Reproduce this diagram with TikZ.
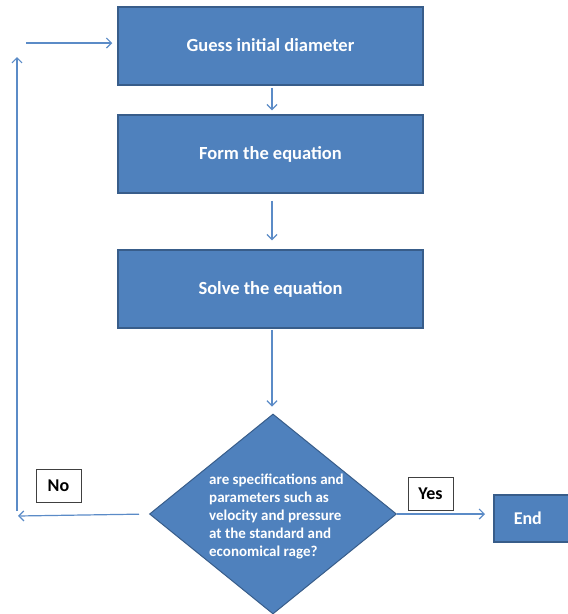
\documentclass[tikz,border=0pt]{standalone}
\usepackage{fontspec}
\setmainfont{Carlito}
\usetikzlibrary{shapes.geometric,arrows.meta}
\definecolor{boxfill}{HTML}{4F81BD}
\definecolor{boxline}{HTML}{385D8A}
\definecolor{arrcol}{HTML}{5B8BC7}
\tikzset{
  stepbox/.style={draw=boxline, line width=1.5pt, fill=boxfill, minimum width=305pt, minimum height=78pt, font=\bfseries\fontsize{18.5}{22}\selectfont, text=white},
  decbox/.style={diamond, draw=boxline, line width=1pt, fill=boxfill, minimum width=247pt, minimum height=200pt, inner sep=0pt},
  lblbox/.style={draw=black!75, line width=1pt, fill=white, font=\bfseries\fontsize{18}{21}\selectfont, minimum width=45pt, minimum height=33pt, inner sep=0pt},
  arr/.style={draw=arrcol, line width=1.2pt, -{Straight Barb[length=5pt,width=10pt]}}
}
\begin{document}
\begin{tikzpicture}[x=1pt,y=-1pt]
\useasboundingbox (0,0) rectangle (568,614);
\node[stepbox] (b1) at (270.5,46) {\raisebox{3pt}{Guess initial diameter}};
\node[stepbox] (b2) at (270.5,154) {Form the equation};
\node[stepbox] (b3) at (270.5,289) {Solve the equation};
\node[decbox] (d) at (273,514) {};
\node[text=white, font=\bfseries\fontsize{15}{18}\selectfont, align=left, anchor=north west, inner sep=0pt] (dt) at (209,474) {are specifications and\\parameters such as\\velocity and pressure\\at the standard and\\economical rage?};
\node[stepbox, minimum width=0pt, minimum height=47pt, anchor=west, text width=60pt, align=left, inner xsep=20pt, font=\bfseries\fontsize{18}{21}\selectfont] (e) at (493,518.5) {End};
\node[lblbox] (no) at (58.5,486) {No};
\node[lblbox] (yes) at (430.5,494) {Yes};
\coordinate (nl) at (18,516);
\coordinate (vb) at (17,511);
\coordinate (vt) at (17,57);
\coordinate (ts) at (26,43);
\draw[arr, shorten <=2pt, shorten >=4pt] (b1.south -| 272,0) -- (b2.north -| 272,0);
\draw[arr, shorten <=7pt, shorten >=9pt] (b2.south -| 272,0) -- (b3.north -| 272,0);
\draw[arr, shorten <=1pt, shorten >=7pt] (b3.south -| 272,0) -- (d.north -| 272,0);
\draw[arr, shorten >=8pt] (d.east) -- (e.west |- d.east);
\draw[arr, shorten <=10pt] (d.west) -- (nl);
\draw[arr] (vb) -- (vt);
\draw[arr, shorten >=5pt] (ts) -- (b1.west |- ts);
\end{tikzpicture}
\end{document}
